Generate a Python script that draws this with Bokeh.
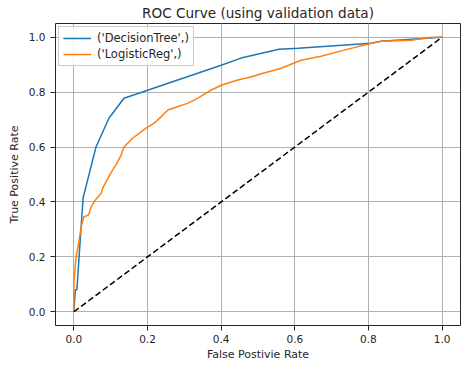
from bokeh.plotting import figure
from bokeh.models import Range1d, FixedTicker, PrintfTickFormatter, Legend, LegendItem
from bokeh.embed import file_html
from bokeh.resources import INLINE

title_text = "ROC Curve (using validation data)"
x_label = "False Postivie Rate"
y_label = "True Positive Rate"
series_names = ["('DecisionTree',)", "('LogisticReg',)"]
ticks = [0.0, 0.2, 0.4, 0.6, 0.8, 1.0]

fpr_tree = [0.0, 0.004, 0.008, 0.025, 0.06, 0.095, 0.136, 0.2, 0.4, 0.454, 0.557, 0.609, 0.807, 0.834, 1.0]
tpr_tree = [0.0, 0.08, 0.08, 0.415, 0.60, 0.705, 0.778, 0.807, 0.898, 0.924, 0.956, 0.96, 0.978, 0.985, 1.0]

fpr_logreg = [0.0, 0.0, 0.0, 0.005, 0.014, 0.02, 0.027, 0.04, 0.046, 0.06, 0.073, 0.08, 0.1, 0.114, 0.128,
              0.136, 0.16, 0.177, 0.196, 0.218, 0.236, 0.255, 0.277, 0.31, 0.337, 0.372, 0.4, 0.445, 0.48,
              0.514, 0.563, 0.617, 0.671, 0.734, 0.8, 0.834, 0.916, 0.97, 1.0]
tpr_logreg = [0.0, 0.03, 0.105, 0.19, 0.26, 0.31, 0.345, 0.353, 0.38, 0.41, 0.43, 0.455, 0.505, 0.535, 0.57,
              0.60, 0.633, 0.65, 0.669, 0.687, 0.709, 0.735, 0.745, 0.76, 0.778, 0.807, 0.825, 0.844, 0.855,
              0.869, 0.887, 0.916, 0.931, 0.953, 0.975, 0.985, 0.989, 1.0, 1.0]

diag_x = [0.0, 1.0]
diag_y = [0.0, 1.0]

FONT = "DejaVu Sans"
TXT = "#262626"

p = figure(frame_width=405, frame_height=302, output_backend="svg", toolbar_location=None,
           x_range=Range1d(-0.05, 1.05), y_range=Range1d(-0.05, 1.05),
           title=title_text, min_border_left=55, min_border_right=6,
           min_border_top=0, min_border_bottom=36)

p.title.align = "center"
p.title.text_font = FONT
p.title.text_font_size = "13.6px"
p.title.text_font_style = "normal"
p.title.text_color = TXT
p.title.standoff = 5

p.outline_line_color = "#262626"
p.outline_line_width = 1

for ax in (p.xaxis[0], p.yaxis[0]):
    ax.ticker = FixedTicker(ticks=ticks)
    ax.formatter = PrintfTickFormatter(format="%.1f")
    ax.major_label_text_font = FONT
    ax.major_label_text_font_size = "10.5px"
    ax.major_label_text_color = TXT
    ax.axis_label_text_font = FONT
    ax.axis_label_text_font_size = "11px"
    ax.axis_label_text_font_style = "normal"
    ax.axis_label_text_color = TXT
    ax.axis_line_color = None
    ax.major_tick_line_color = "#262626"
    ax.major_tick_out = 5
    ax.major_tick_in = 0
    ax.minor_tick_line_color = None

p.xaxis[0].major_label_standoff = 4
p.xaxis[0].axis_label_standoff = 2
p.yaxis[0].major_label_standoff = 5
p.yaxis[0].axis_label_standoff = 5

p.xaxis.axis_label = x_label
p.yaxis.axis_label = y_label

p.xgrid.grid_line_color = "#b0b0b0"
p.ygrid.grid_line_color = "#b0b0b0"
p.xgrid.grid_line_width = 1
p.ygrid.grid_line_width = 1
p.xgrid.ticker = FixedTicker(ticks=ticks)
p.ygrid.ticker = FixedTicker(ticks=ticks)

r1 = p.line(fpr_tree, tpr_tree, line_color="#1f77b4", line_width=1.5)
r2 = p.line(fpr_logreg, tpr_logreg, line_color="#ff7f0e", line_width=1.5)
p.line(diag_x, diag_y, line_color="black", line_width=1.5, line_dash="6 3")

legend = Legend(items=[LegendItem(label=series_names[0], renderers=[r1]),
                       LegendItem(label=series_names[1], renderers=[r2])],
                location="top_left")
legend.label_text_font = FONT
legend.label_text_font_size = "11.5px"
legend.label_text_color = TXT
legend.border_line_color = "#cccccc"
legend.border_line_alpha = 1
legend.background_fill_alpha = 0.85
legend.glyph_width = 28
legend.glyph_height = 14
legend.label_height = 14
legend.spacing = 2
legend.padding = 4
legend.margin = 3
legend.label_standoff = 6
p.add_layout(legend)

open("out.html", "w").write(file_html(p, INLINE))
